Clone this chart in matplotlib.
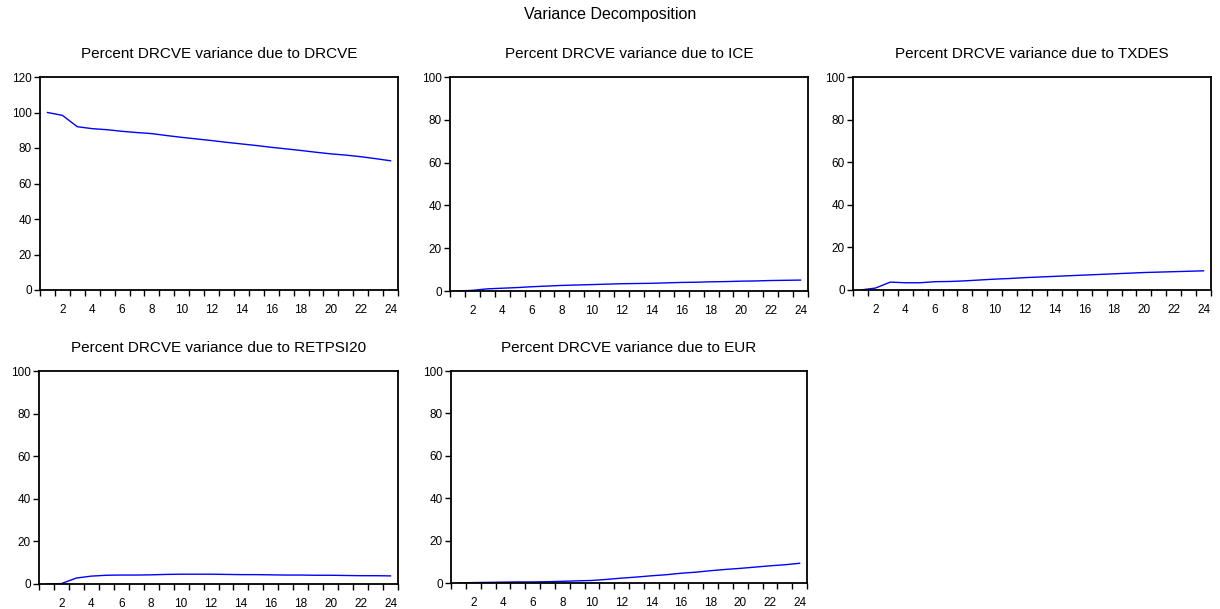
import numpy as np
import matplotlib
matplotlib.use('Agg')
import matplotlib.pyplot as plt

plt.rcParams['font.family'] = ['Liberation Sans', 'DejaVu Sans']

# periods 1..24
periods = np.arange(1, 25)

drcve = [100.0, 98.4, 92.0, 90.9, 90.3, 89.4, 88.7, 88.1, 87.0, 86.0, 85.1, 84.2,
         83.2, 82.3, 81.4, 80.4, 79.5, 78.6, 77.6, 76.7, 76.0, 75.1, 74.0, 72.8]
ice = [0.0, 0.3, 1.0, 1.3, 1.6, 2.0, 2.3, 2.6, 2.8, 3.0, 3.2, 3.4,
       3.5, 3.6, 3.8, 4.0, 4.1, 4.3, 4.4, 4.6, 4.7, 4.9, 5.0, 5.1]
txdes = [0.0, 0.9, 3.7, 3.4, 3.4, 3.9, 4.0, 4.3, 4.7, 5.1, 5.4, 5.8,
         6.1, 6.4, 6.7, 7.0, 7.3, 7.6, 7.9, 8.2, 8.4, 8.6, 8.8, 9.0]
retpsi20 = [0.0, 0.2, 2.8, 3.7, 4.1, 4.2, 4.2, 4.3, 4.5, 4.6, 4.6, 4.6,
            4.5, 4.4, 4.4, 4.3, 4.2, 4.2, 4.1, 4.1, 4.0, 3.9, 3.9, 3.8]
eur = [0.0, 0.2, 0.3, 0.4, 0.5, 0.5, 0.6, 0.8, 1.0, 1.2, 1.7, 2.3,
       2.8, 3.4, 3.9, 4.6, 5.1, 5.8, 6.4, 6.9, 7.5, 8.1, 8.6, 9.3]

titles = ['Percent DRCVE variance due to DRCVE',
          'Percent DRCVE variance due to ICE',
          'Percent DRCVE variance due to TXDES',
          'Percent DRCVE variance due to RETPSI20',
          'Percent DRCVE variance due to EUR']
series = [drcve, ice, txdes, retpsi20, eur]
ymaxes = [120, 100, 100, 100, 100]

W, H = 1220, 609
fig = plt.figure(figsize=(W / 100, H / 100), dpi=100)

# axes boxes in pixels: left, top, right, bottom
boxes = [(40, 77, 398, 290),
         (450, 77, 808, 291),
         (853, 77, 1211, 290),
         (39, 371, 398, 584),
         (451, 371, 807, 583)]

for (l, t, r, b), ys, ttl, ym in zip(boxes, series, titles, ymaxes):
    ax = fig.add_axes([l / W, 1 - b / H, (r - l) / W, (b - t) / H])
    ax.plot(periods, ys, color='blue', lw=1)
    ax.set_xlim(0.5, 24.5)
    ax.set_ylim(0, ym)
    ax.set_yticks(np.arange(0, ym + 1, 20))
    ax.set_xticks(np.arange(2, 25, 2))
    ax.set_xticks(np.arange(0.5, 25, 1), minor=True)
    ax.tick_params(axis='x', which='major', length=0, pad=10, labelsize=8.5)
    ax.tick_params(axis='x', which='minor', length=4, width=1, direction='out')
    ax.tick_params(axis='y', length=4, width=1, direction='out', pad=2, labelsize=8.5)
    for sp in ax.spines.values():
        sp.set_linewidth(1.3)
    ax.set_title(ttl, fontsize=11, pad=14)

fig.text(0.5, 1 - 15 / H, 'Variance Decomposition', ha='center', va='center', fontsize=11.5)

fig.savefig('out.png', dpi=100)
